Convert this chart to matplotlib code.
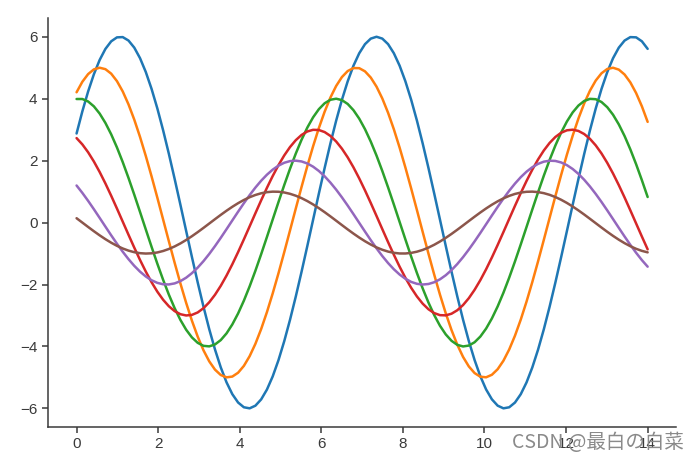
import numpy as np
import matplotlib
matplotlib.use("Agg")
import matplotlib.pyplot as plt
import seaborn as sns

# sine waves: y = amp * sin(x + phase)
x_start, x_end, n_points = 0, 14, 100
amplitudes = [6, 5, 4, 3, 2, 1]
phases = [0.5, 1.0, 1.5, 2.0, 2.5, 3.0]
colors = ["#1f77b4", "#ff7f0e", "#2ca02c", "#d62728", "#9467bd", "#8c564b"]
x_ticks = [0, 2, 4, 6, 8, 10, 12, 14]
y_ticks = [-6, -4, -2, 0, 2, 4, 6]
watermark = "CSDN @最白の白菜"

sns.set_style("ticks")
plt.rcParams['font.family'] = ['Liberation Sans', 'DejaVu Sans']

fig = plt.figure(figsize=(7, 4.66), dpi=100)
ax = fig.add_axes([0.0686, 0.0837, 0.8974, 0.8773])

x = np.linspace(x_start, x_end, n_points)
for amp, ph, c in zip(amplitudes, phases, colors):
    ax.plot(x, amp * np.sin(x + ph), color=c, linewidth=1.8)

ax.set_xticks(x_ticks)
ax.set_yticks(y_ticks)
ax.set_xlim(-0.7, 14.7)
ax.set_ylim(-6.6, 6.6)
ax.tick_params(labelsize=11, colors="#3a3a3a", length=4, width=1.1)
for s in ["left", "bottom"]:
    ax.spines[s].set_color("#3a3a3a")
    ax.spines[s].set_linewidth(1.1)
sns.despine(ax=ax)

fig.text(0.977, 0.028, watermark, ha="right", va="bottom", fontsize=14,
         color="#8a8a8a", family=["Noto Sans CJK SC", "DejaVu Sans"])

fig.savefig("out.png", dpi=100)
